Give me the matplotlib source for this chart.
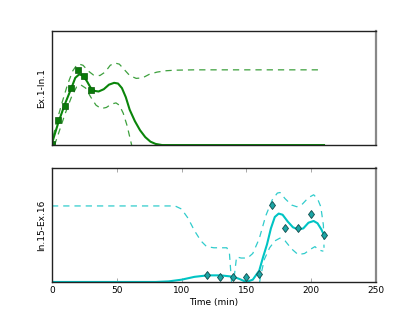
import numpy as np
import matplotlib
matplotlib.use('Agg')
import matplotlib.pyplot as plt

# Top panel: Ex.1-In.1
top_pts_t = [0, 5, 10, 15, 20, 25, 30]
top_pts_v = [0.01, 0.22, 0.34, 0.50, 0.66, 0.61, 0.48]

top_mean_t = [0, 5, 10, 15, 18, 21, 24, 27, 30, 33, 36, 40, 44, 48, 51, 54, 57, 60,
              64, 68, 72, 76, 80, 85, 210]
top_mean_v = [0.015, 0.20, 0.36, 0.50, 0.59, 0.62, 0.61, 0.56, 0.50, 0.475, 0.47, 0.49,
              0.53, 0.546, 0.54, 0.50, 0.42, 0.31, 0.21, 0.13, 0.07, 0.03, 0.01, 0.0, 0.0]

top_up_t = [1, 4, 8, 12, 16, 19, 21, 24, 28, 32, 37, 41, 45, 48.6, 52, 56, 60, 65,
            70, 75, 81, 88, 95, 110, 209]
top_up_v = [0.08, 0.22, 0.38, 0.53, 0.65, 0.70, 0.71, 0.70, 0.65, 0.615, 0.61, 0.64,
            0.70, 0.72, 0.71, 0.66, 0.61, 0.585, 0.59, 0.62, 0.64, 0.652, 0.657, 0.66, 0.66]

top_lo_t = [2, 5, 10, 15, 19, 22, 26, 30, 34, 38, 42, 46, 49.4, 52, 55, 58, 61.5, 63]
top_lo_v = [0.0, 0.10, 0.27, 0.42, 0.51, 0.53, 0.50, 0.42, 0.35, 0.32, 0.33, 0.36,
            0.37, 0.35, 0.28, 0.17, 0.0, -0.1]

# Bottom panel: In.15-Ex.16
bot_pts_t = [120, 130, 140, 150, 160, 170, 180, 190, 200, 210]
bot_pts_v = [0.06, 0.046, 0.04, 0.046, 0.07, 0.675, 0.47, 0.47, 0.60, 0.41]

bot_mean_t = [0, 80, 90, 100, 110, 120, 130, 140, 145, 150, 155, 160, 163, 166, 169,
              172, 175, 178, 182, 186, 190, 194, 198, 202, 205, 208, 210]
bot_mean_v = [0.0, 0.0, 0.005, 0.02, 0.045, 0.058, 0.058, 0.046, 0.025, 0.0, 0.02,
              0.10, 0.22, 0.33, 0.47, 0.57, 0.60, 0.59, 0.53, 0.48, 0.46, 0.47, 0.52,
              0.535, 0.515, 0.46, 0.41]

bot_up_t = [0, 95, 100, 105, 110, 115, 119.4, 125, 135, 137, 138.6, 139.3, 140.2,
            142.5, 146, 151, 155, 160, 165, 170, 174, 176, 180, 185, 189, 193, 198,
            202, 205, 207.5, 209.5, 210]
bot_up_v = [0.667, 0.667, 0.64, 0.56, 0.45, 0.36, 0.31, 0.30, 0.30, 0.25, 0.0, -0.1,
            0.0, 0.22, 0.21, 0.21, 0.25, 0.38, 0.58, 0.72, 0.78, 0.785, 0.73, 0.675,
            0.66, 0.68, 0.74, 0.765, 0.73, 0.66, 0.50, 0.30]

bot_lo_t = [159, 161, 164, 168, 172, 176, 180, 185, 190, 195, 200, 203, 206, 209.5]
bot_lo_v = [-0.1, 0.05, 0.20, 0.30, 0.36, 0.385, 0.36, 0.29, 0.24, 0.25, 0.29, 0.31,
            0.28, 0.27]

fig = plt.figure(figsize=(4.19, 3.14), dpi=100)
ax1 = fig.add_axes([0.124, 0.538, 0.773, 0.363])
ax2 = fig.add_axes([0.124, 0.102, 0.773, 0.363])

green, green_d = '#0a850a', '#3da03d'
cyan, cyan_d = '#00c4c4', '#30cccc'
dash = (5, 4)

ax1.plot(top_up_t, top_up_v, color=green_d, lw=0.9, dashes=dash)
ax1.plot(top_lo_t, top_lo_v, color=green_d, lw=0.9, dashes=dash)
ax1.plot(top_mean_t, top_mean_v, color=green, lw=1.5)
ax1.plot(top_pts_t, top_pts_v, 's', color='#0a7a0a', mec='#0a5a0a', ms=4.2, mew=0.5)

ax2.plot(bot_up_t, bot_up_v, color=cyan_d, lw=0.9, dashes=dash)
ax2.plot(bot_lo_t, bot_lo_v, color=cyan_d, lw=0.9, dashes=dash)
ax2.plot(bot_mean_t, bot_mean_v, color=cyan, lw=1.5)
ax2.plot(bot_pts_t, bot_pts_v, 'd', color='#1aa5a5', mec='#124a4a', ms=4.5, mew=0.6)

for ax in (ax1, ax2):
    ax.set_xlim(0, 250)
    ax.set_ylim(0, 1)
    ax.set_yticks([])
    for s in ('left', 'top', 'bottom'):
        ax.spines[s].set_color('#222222')
        ax.spines[s].set_linewidth(1.0)
    ax.spines['right'].set_color('#888888')
    ax.spines['right'].set_linewidth(1.6)

ax1.set_xticks([])
ax1.set_ylabel('Ex.1-In.1', fontsize=6.5, labelpad=4)

ax2.set_xticks([0, 50, 100, 150, 200, 250])
ax2.tick_params(axis='x', direction='in', top=True, length=3, width=0.6,
                color='#999999', labelsize=6.5, pad=3)
ax2.set_ylabel('In.15-Ex.16', fontsize=6.5, labelpad=4)
ax2.set_xlabel('Time (min)', fontsize=6.5, labelpad=2)

fig.savefig('out.png', dpi=100)
